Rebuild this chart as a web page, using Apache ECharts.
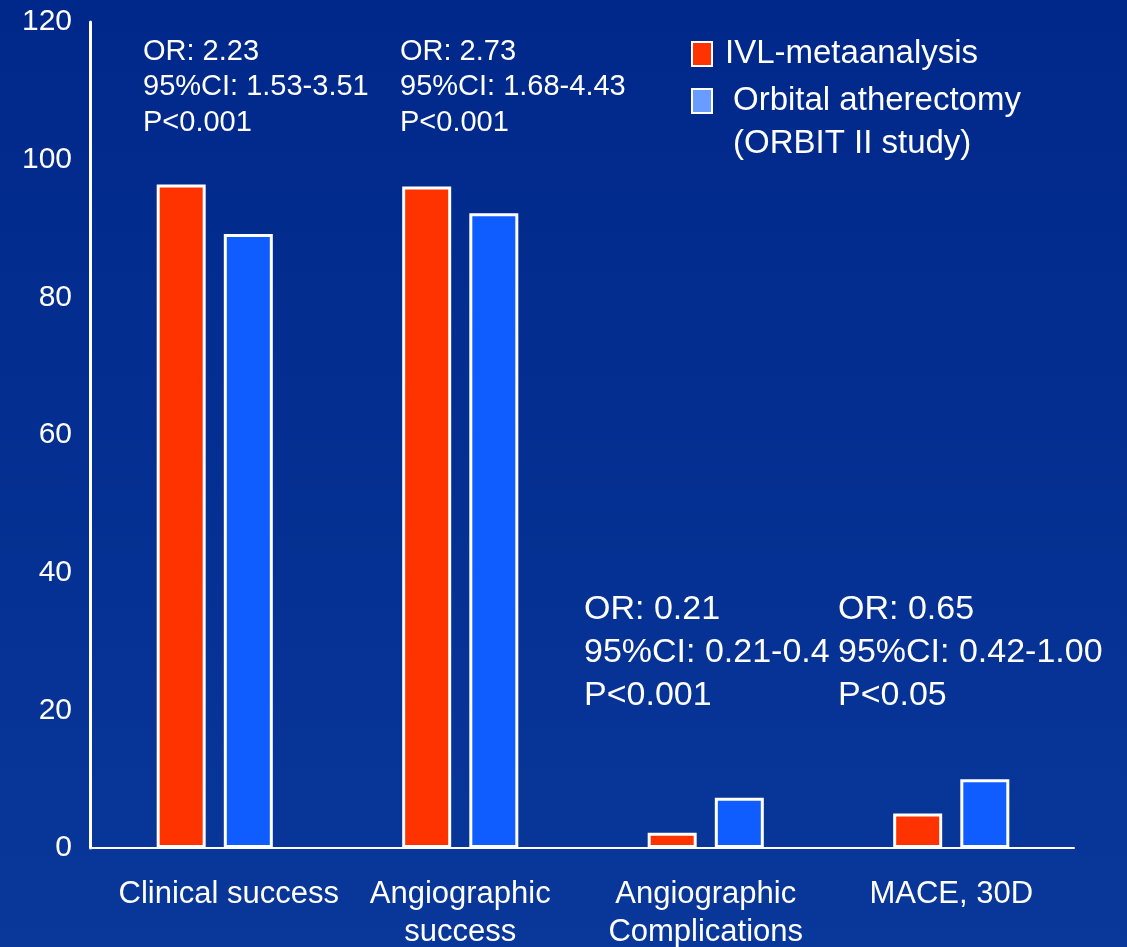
<!DOCTYPE html>
<html>
<head>
<meta charset="utf-8">
<script src="https://cdn.jsdelivr.net/npm/echarts@6/dist/echarts.min.js"></script>
<style>
  html, body { margin: 0; padding: 0; }
  #chart { width: 1127px; height: 947px; }
</style>
</head>
<body>
<div id="chart"></div>
<script>
// values
const categories = ['Clinical success', 'Angiographic\nsuccess', 'Angiographic\nComplications', 'MACE, 30D']
const ivlValues = [96.4, 96.1, 2.2, 5.0]
const orbitValues = [89.2, 92.2, 7.3, 10.0]
const yTicks = [0, 20, 40, 60, 80, 100, 120]
const statNotes = [
  ['OR: 2.23', '95%CI: 1.53-3.51', 'P<0.001'],
  ['OR: 2.73', '95%CI: 1.68-4.43', 'P<0.001'],
  ['OR: 0.21', '95%CI: 0.21-0.4', 'P<0.001'],
  ['OR: 0.65', '95%CI: 0.42-1.00', 'P<0.05']
]

const font = '"Liberation Sans", Arial, sans-serif'
const chart = echarts.init(document.getElementById('chart'))

// first label sits a little right of its bars in the original
const categoryData = categories.map((c, i) => i === 0
  ? { value: c, textStyle: { padding: [0, 0, 0, 28] } }
  : c)

chart.setOption({
  backgroundColor: {
    type: 'linear', x: 0, y: 0, x2: 0, y2: 1,
    colorStops: [
      { offset: 0, color: '#00288a' },
      { offset: 1, color: '#09379a' }
    ]
  },
  textStyle: { fontFamily: font },
  grid: { left: 92, right: 53, top: 22, bottom: 99, outerBoundsMode: 'none' },
  legend: {
    orient: 'vertical',
    left: 691,
    top: 34,
    padding: 0,
    itemWidth: 20,
    itemHeight: 24,
    itemGap: 7,
    icon: 'rect',
    textStyle: { color: '#fff', fontSize: 33, lineHeight: 40, fontFamily: font, padding: [0, 0, 0, 8] },
    data: [
      { name: 'IVL-metaanalysis', itemStyle: { color: '#ff3300', borderColor: '#fff', borderWidth: 2 } },
      {
        name: 'Orbital atherectomy',
        itemStyle: { color: '#6a9bff', borderColor: '#fff', borderWidth: 2 },
        textStyle: { padding: [0, 0, 0, 16] }
      }
    ]
  },
  xAxis: {
    type: 'category',
    data: categoryData,
    axisLine: { lineStyle: { color: '#fff', width: 2 } },
    axisTick: { show: false },
    axisLabel: { color: '#fff', fontSize: 31, margin: 27, lineHeight: 38, interval: 0 }
  },
  yAxis: {
    type: 'value',
    min: 0,
    max: 120,
    interval: 20,
    offset: 2,
    axisLine: { show: true, lineStyle: { color: '#fff', width: 3 } },
    axisTick: { show: false },
    splitLine: { show: false },
    axisLabel: {
      color: '#fff', fontSize: 30, margin: 18,
      formatter: v => yTicks.includes(v) ? String(v) : ''
    }
  },
  series: [
    {
      name: 'IVL-metaanalysis',
      type: 'bar',
      data: ivlValues,
      barWidth: 49,
      barGap: '37%',
      itemStyle: { color: '#ff3300', borderColor: '#fff', borderWidth: 3 }
    },
    {
      name: 'Orbital atherectomy',
      type: 'bar',
      data: orbitValues,
      barWidth: 49,
      itemStyle: { color: '#105dff', borderColor: '#fff', borderWidth: 3 }
    }
  ],
  graphic: [
    { type: 'text', left: 733, top: 127, style: { text: '(ORBIT II study)', fill: '#fff', font: '33px ' + font } },
    { type: 'text', left: 143, top: 34, style: { text: statNotes[0].join('\n'), fill: '#fff', font: '29px ' + font, lineHeight: 35.5 } },
    { type: 'text', left: 400, top: 34, style: { text: statNotes[1].join('\n'), fill: '#fff', font: '29px ' + font, lineHeight: 35.5 } },
    { type: 'text', left: 584, top: 588, style: { text: statNotes[2].join('\n'), fill: '#fff', font: '34px ' + font, lineHeight: 43 } },
    { type: 'text', left: 838, top: 588, style: { text: statNotes[3].join('\n'), fill: '#fff', font: '34px ' + font, lineHeight: 43 } }
  ]
})
</script>
</body>
</html>
